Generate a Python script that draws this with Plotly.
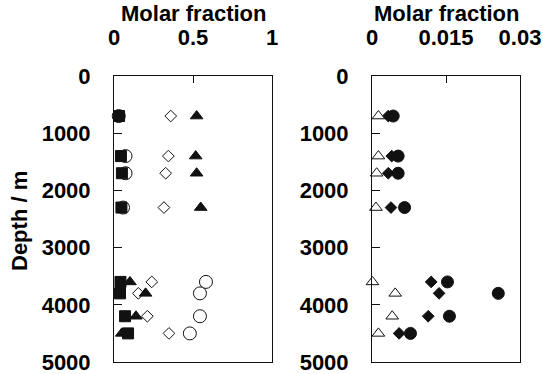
import plotly.graph_objects as go

depth = [700, 1400, 1700, 2300, 3600, 3800, 4200, 4500]

# Left panel (molar fraction 0-1)
left_square = [0.032, 0.044, 0.05, 0.047, 0.041, 0.038, 0.07, 0.089]
left_circle = [0.03, 0.073, 0.073, 0.057, 0.582, 0.544, 0.544, 0.48]
left_diamond = [0.359, 0.344, 0.327, 0.316, 0.239, 0.154, 0.211, 0.348]
left_triangle = [0.523, 0.517, 0.523, 0.549, 0.101, 0.2, 0.139, 0.049]

# Right panel (molar fraction 0-0.03)
right_triangle = [0.0013, 0.0013, 0.00095, 0.0008, 0.0001, 0.0047, 0.0041, 0.0013]
right_diamond = [0.0033, 0.004, 0.0033, 0.00385, 0.012, 0.0136, 0.0114, 0.0055]
right_circle = [0.0043, 0.0053, 0.0053, 0.0066, 0.0153, 0.0256, 0.0157, 0.0078]

left_ticks = [0, 0.5, 1]
left_ticktext = ["0", "0.5", "1"]
right_ticks = [0, 0.015, 0.03]
right_ticktext = ["0", "0.015", "0.03"]
depth_ticks = [0, 1000, 2000, 3000, 4000, 5000]

FONT = "Liberation Sans, Arial, sans-serif"
BLACK = "#111111"

fig = go.Figure()

def add(x, xa, ya, symbol, size, filled):
    fig.add_trace(go.Scatter(
        x=x, y=depth, mode="markers", xaxis=xa, yaxis=ya, cliponaxis=False,
        marker=dict(symbol=symbol, size=size,
                    color=BLACK if filled else "white",
                    line=dict(color=BLACK, width=1)),
        showlegend=False))

add(left_circle, "x", "y", "circle", 13, False)
add(left_diamond, "x", "y", "diamond", 9, False)
add(left_triangle, "x", "y", "triangle-up", 11, True)
add(left_square, "x", "y", "square", 11, True)

add(right_circle, "x2", "y2", "circle", 12, True)
add(right_diamond, "x2", "y2", "diamond", 9, True)
add(right_triangle, "x2", "y2", "triangle-up", 11, False)

ydom = [12 / 374, 298 / 374]
tickfont = dict(family=FONT, size=22, color="black", weight="bold")

xcommon = dict(side="top", showgrid=False, zeroline=False, showline=True, mirror=True,
               linecolor=BLACK, linewidth=1, ticks="inside", ticklen=7, tickcolor=BLACK,
               tickfont=tickfont, ticklabelstandoff=21, automargin=False,
               ticklabeloverflow="allow")
ycommon = dict(range=[5000, 0], tickvals=depth_ticks, showgrid=False, zeroline=False,
               showline=True, mirror=True, linecolor=BLACK, linewidth=1, ticks="inside",
               ticklen=8, tickcolor=BLACK, tickfont=tickfont, ticklabelstandoff=18,
               domain=ydom, automargin=False, ticklabeloverflow="allow")

fig.update_layout(
    width=543, height=374, margin=dict(l=0, r=0, t=0, b=0, autoexpand=False),
    paper_bgcolor="white", plot_bgcolor="white",
    xaxis=dict(domain=[114 / 543, 272 / 543], range=[0, 1], tickvals=left_ticks,
               ticktext=left_ticktext, anchor="y", **xcommon),
    yaxis=dict(anchor="x", **ycommon),
    xaxis2=dict(domain=[372 / 543, 520 / 543], range=[0, 0.03], tickvals=right_ticks,
                ticktext=right_ticktext, anchor="y2", **xcommon),
    yaxis2=dict(anchor="x2", **ycommon),
)

title_font = dict(family=FONT, size=22, color="black", weight="bold")
for xr in ["x domain", "x2 domain"]:
    fig.add_annotation(text="Molar fraction", xref=xr, yref="paper", x=0.5,
                       y=(374 - 13) / 374, xanchor="center", yanchor="middle",
                       showarrow=False, font=title_font)
fig.add_annotation(text="Depth / m", xref="paper", yref="paper", x=20 / 543,
                   y=(374 - 221) / 374, xanchor="center", yanchor="middle", textangle=-90,
                   showarrow=False, font=title_font)

fig.write_html("out.html")
